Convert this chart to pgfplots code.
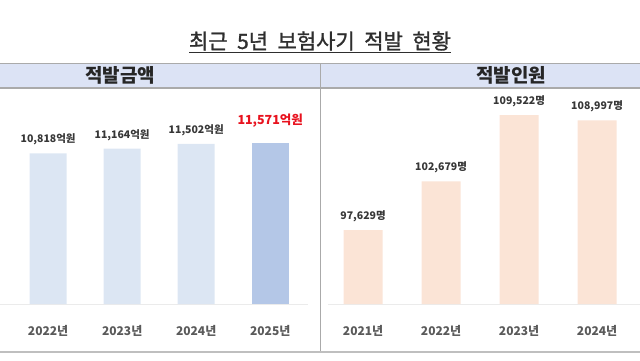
\documentclass[border=0pt]{standalone}
\usepackage{fontspec}
\setmainfont{Noto Sans CJK KR}
\newfontfamily\titlefont[FakeBold=1.2]{Noto Sans CJK KR}
\usepackage{pgfplots}
\pgfplotsset{compat=1.18}
\definecolor{band}{RGB}{220,227,245}
\definecolor{lblue}{RGB}{220,230,243}
\definecolor{dblue}{RGB}{180,199,231}
\definecolor{peach}{RGB}{251,228,214}
\definecolor{txt}{RGB}{55,55,55}
\definecolor{tickc}{RGB}{90,90,90}
\definecolor{rline}{RGB}{170,170,170}
\definecolor{hilite}{RGB}{232,18,30}
\pgfplotsset{
  panel/.style={
    scale only axis, anchor=south west, height=204pt,
    axis line style={draw=none}, ytick=\empty,
    xtick={0,1,2,3}, xtick style={draw=none},
    xticklabel style={font=\bfseries\fontsize{12}{14}\selectfont, text=tickc, anchor=center, yshift=-23pt},
    ybar, bar shift=0pt, clip=false,
    every node near coord/.style={anchor=south, inner sep=0pt, yshift=8pt, text=txt, font=\bfseries\fontsize{10.5}{12}\selectfont},
  }
}
\newcommand{\num}[1]{\pgfmathprintnumber[fixed,precision=0,1000 sep={,},assume math mode=true]{#1}}
\begin{document}
\begin{tikzpicture}[x=1pt,y=1pt]
\path[use as bounding box] (0,0) rectangle (640,360);
\fill[band] (0,272) rectangle (640,297);
\draw[rline, line width=1pt] (0,297) -- (640,297);
\draw[rline, line width=1.2pt] (0,272) -- (640,272);
\draw[rline, line width=1pt] (320,297) -- (320,8);
\draw[black!25, line width=1.5pt] (0,8) -- (640,8);
\node[font=\titlefont\fontsize{21}{24}\selectfont, text=black!82] at (320,318) {\underline{최근\hspace{0.45em}5년\hspace{0.45em}보험사기\hspace{0.45em}적발\hspace{0.45em}현황}};
\node[font=\bfseries\fontsize{19}{22}\selectfont, text=black!85] at (120,285) {적발금액};
\node[font=\bfseries\fontsize{19}{22}\selectfont, text=black!85] at (511,285) {적발인원};

\begin{axis}[panel, at={(0pt,56pt)}, width=308pt, xmin=-0.65, xmax=3.51, ymin=0, ymax=14660,
  bar width=37pt, xticklabels={2022년,2023년,2024년,2025년}]
\draw[black!8, line width=0.8pt] (rel axis cs:0,0) -- (rel axis cs:1,0);
\addplot[fill=lblue, draw=none, nodes near coords={\num{\pgfplotspointmeta}억원}]
  coordinates {(0,10818) (1,11164) (2,11502)};
\addplot[fill=dblue, draw=none, nodes near coords={\num{\pgfplotspointmeta}억원},
  every node near coord/.append style={text=hilite, font=\bfseries\fontsize{12.5}{14}\selectfont, yshift=7pt}]
  coordinates {(3,11571)};
\end{axis}

\begin{axis}[panel, at={(328pt,56pt)}, width=312pt, xmin=-0.45, xmax=3.55, ymin=90000, ymax=111094,
  bar width=39pt, xticklabels={2021년,2022년,2023년,2024년}]
\draw[black!8, line width=0.8pt] (rel axis cs:0,0) -- (rel axis cs:1,0);
\addplot[fill=peach, draw=none, nodes near coords={\num{\pgfplotspointmeta}명}]
  coordinates {(0,97629) (1,102679) (2,109522) (3,108997)};
\end{axis}
\end{tikzpicture}
\end{document}
